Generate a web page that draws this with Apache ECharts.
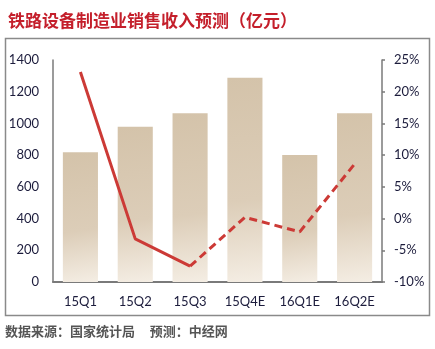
<!DOCTYPE html>
<html>
<head>
<meta charset="utf-8">
<script src="https://cdn.jsdelivr.net/npm/echarts@6/dist/echarts.min.js"></script>
<style>
  html, body { margin: 0; padding: 0; background: #ffffff; }
  #chart { width: 435px; height: 349px; }
</style>
</head>
<body>
<div id="chart"></div>
<script>
// Quarterly categories (E = estimate)
const quarters = ['15Q1', '15Q2', '15Q3', '15Q4E', '16Q1E', '16Q2E'];
// Sales revenue, 100 million yuan
const revenue = [818, 979, 1064, 1288, 801, 1064];
// Year-on-year growth, percent
const growth = [23.1, -3.2, -7.5, 0.2, -2.1, 8.6];
// Index of the last actual quarter; later points are forecasts
const lastActual = 2;

const growthActual = growth.map((v, i) => (i <= lastActual ? v : '-'));
const growthForecast = growth.map((v, i) => (i >= lastActual ? v : '-'));

const labelFont = 'Lato, "Noto Sans CJK SC", sans-serif';
const labelColor = '#1c1c3c';
const lineColor = '#cc3a36';

const chart = echarts.init(document.getElementById('chart'), null, { renderer: 'canvas' });

chart.setOption({
  animation: false,
  backgroundColor: '#ffffff',
  title: {
    text: '铁路设备制造业销售收入预测（亿元）',
    left: 3,
    top: 7,
    textStyle: {
      color: '#c41f2b',
      fontSize: 17,
      fontWeight: 'bold',
      fontFamily: '"Noto Sans CJK SC", sans-serif'
    }
  },
  graphic: [
    {
      type: 'rect',
      shape: { x: 5.5, y: 38.5, width: 424, height: 277 },
      style: { fill: 'none', stroke: '#8a8a8a', lineWidth: 1.5 },
      silent: true
    },
    {
      type: 'text',
      left: 5,
      top: 325,
      style: {
        text: '数据来源：国家统计局     预测：中经网',
        fill: '#555555',
        fontSize: 13,
        fontWeight: 'bold',
        fontFamily: '"Noto Sans CJK SC", sans-serif'
      }
    }
  ],
  grid: { left: 53, right: 53, top: 60, bottom: 67, containLabel: false },
  xAxis: {
    type: 'category',
    data: quarters,
    axisLine: { show: true, lineStyle: { color: '#7a7a7a', width: 2 } },
    axisTick: { show: false },
    axisLabel: {
      color: labelColor,
      fontSize: 13,
      fontFamily: labelFont,
      margin: 13
    }
  },
  yAxis: [
    {
      type: 'value',
      min: 0,
      max: 1400,
      interval: 200,
      position: 'left',
      axisLine: { show: true, lineStyle: { color: '#7a7a7a', width: 1.5 } },
      axisTick: { show: false },
      splitLine: { show: false },
      axisLabel: {
        formatter: (v) => String(v),
        color: labelColor,
        fontSize: 13,
        fontFamily: labelFont,
        margin: 14
      }
    },
    {
      type: 'value',
      min: -10,
      max: 25,
      interval: 5,
      position: 'right',
      axisLine: { show: true, lineStyle: { color: '#7a7a7a', width: 1.5 } },
      axisTick: { show: true, inside: false, length: 3, lineStyle: { color: '#7a7a7a', width: 1.5 } },
      splitLine: { show: false },
      axisLabel: {
        formatter: '{value}%',
        color: labelColor,
        fontSize: 13,
        fontFamily: labelFont,
        margin: 12
      }
    }
  ],
  series: [
    {
      name: '销售收入',
      type: 'bar',
      data: revenue,
      barWidth: '64%',
      itemStyle: {
        color: {
          type: 'linear',
          x: 0.2, y: 0, x2: 0.8, y2: 1,
          colorStops: [
            { offset: 0, color: '#d4c3aa' },
            { offset: 0.6, color: '#dccdb8' },
            { offset: 1, color: '#f4ede3' }
          ]
        }
      },
      z: 1
    },
    {
      name: '增速',
      type: 'line',
      yAxisIndex: 1,
      data: growthActual,
      symbol: 'none',
      lineStyle: { color: lineColor, width: 3 },
      z: 3
    },
    {
      name: '增速预测',
      type: 'line',
      yAxisIndex: 1,
      data: growthForecast,
      symbol: 'none',
      lineStyle: { color: lineColor, width: 3, type: [8, 5] },
      z: 3
    }
  ]
});
</script>
</body>
</html>
